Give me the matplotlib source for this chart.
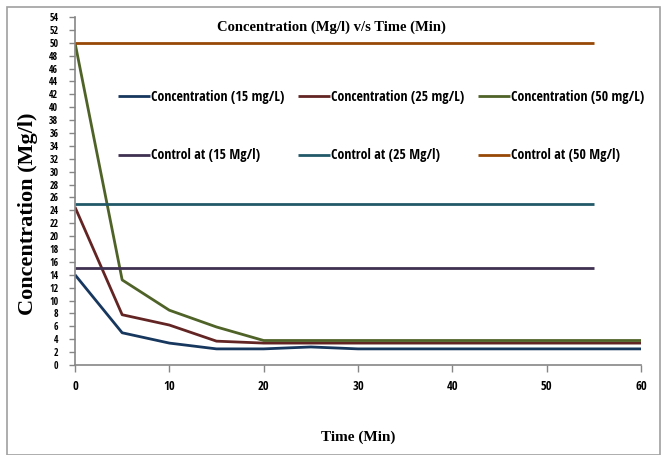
import matplotlib
matplotlib.use("Agg")
import matplotlib.pyplot as plt
from matplotlib.patches import Rectangle
from matplotlib import font_manager as fm

time_conc = [0, 5, 10, 15, 20, 25, 30, 40, 50, 60]
conc_15 = [14, 5.0, 3.4, 2.5, 2.5, 2.8, 2.5, 2.5, 2.5, 2.5]
conc_25 = [24.5, 7.8, 6.2, 3.7, 3.4, 3.4, 3.4, 3.4, 3.4, 3.4]
conc_50 = [50, 13.2, 8.5, 5.9, 3.8, 3.8, 3.8, 3.8, 3.8, 3.8]

time_ctrl = [0, 5, 10, 15, 20, 25, 30, 35, 40, 45, 50, 55]
ctrl_15 = [15] * 12
ctrl_25 = [25] * 12
ctrl_50 = [50] * 12

labels = ["Concentration (15 mg/L)", "Concentration (25 mg/L)", "Concentration (50 mg/L)",
          "Control at (15 Mg/l)", "Control at (25 Mg/l)", "Control at (50 Mg/l)"]
colors = ["#17375E", "#632523", "#4F6228", "#3F3151", "#215968", "#974806"]

x_ticks = [0, 10, 20, 30, 40, 50, 60]
y_ticks = list(range(0, 55, 2))

names = {f.name for f in fm.fontManager.ttflist}
cond = [n for n in ["Liberation Sans Narrow", "Open Sans Condensed", "Roboto Condensed",
                    "DejaVu Sans Condensed"] if n in names]
narrow = cond[:1] + ["DejaVu Sans"]
stretch = "normal" if cond else "condensed"
serif = ["Liberation Serif", "DejaVu Serif"]

fig = plt.figure(figsize=(6.65, 4.55), dpi=100)
ax = fig.add_axes([75/665, 1-365/455, (641-75)/665, (365-17)/455])

series = [(time_conc, conc_15), (time_conc, conc_25), (time_conc, conc_50),
          (time_ctrl, ctrl_15), (time_ctrl, ctrl_25), (time_ctrl, ctrl_50)]
handles = []
for (xs, ys), lab, c in zip(series, labels, colors):
    h, = ax.plot(xs, ys, color=c, lw=2.0, label=lab, solid_capstyle="butt")
    handles.append(h)

ax.set_xlim(0, 60)
ax.set_ylim(0, 54)
ax.set_xticks(x_ticks)
ax.set_yticks(y_ticks)
ax.set_xticklabels([str(v) for v in x_ticks], fontfamily=narrow, fontweight="bold",
                   fontsize=9, fontstretch=stretch)
ax.set_yticklabels([str(v) for v in y_ticks], fontfamily=narrow, fontweight="bold",
                   fontsize=7, fontstretch=stretch)
ax.tick_params(axis="x", direction="out", length=5, width=1, color="#868686", pad=6)
ax.tick_params(axis="y", direction="out", length=4, width=1, color="#868686", pad=8)
for s in ["top", "right"]:
    ax.spines[s].set_visible(False)
for s in ["left", "bottom"]:
    ax.spines[s].set_color("#868686")
    ax.spines[s].set_linewidth(1.2)

order = [0, 3, 1, 4, 2, 5]
leg = ax.legend(handles=[handles[i] for i in order], labels=[labels[i] for i in order],
                loc="upper left", bbox_to_anchor=(0.054, 0.826), ncol=3,
                frameon=False,
                prop={"family": narrow, "size": 10, "stretch": stretch, "weight": "normal"},
                handlelength=2.3, handletextpad=0.1, columnspacing=0.95, labelspacing=3.2)

fig.text(331/665, 1-27/455, "Concentration (Mg/l) v/s Time (Min)", ha="center", va="center",
         fontfamily=serif, fontweight="bold", fontsize=10.5)
fig.text(28/665, 1-214/455, "Concentration (Mg/l)", ha="center", va="center", rotation=90,
         fontfamily=serif, fontweight="bold", fontsize=16)
fig.text(358/665, 1-437/455, "Time (Min)", ha="center", va="center",
         fontfamily=serif, fontweight="bold", fontsize=11)

fig.patches.append(Rectangle((7/665, 0.0), 653/665, 1-7/455, transform=fig.transFigure,
                             fill=False, edgecolor="#A0A0A0", lw=1.2))

fig.savefig("out.png", dpi=100)
